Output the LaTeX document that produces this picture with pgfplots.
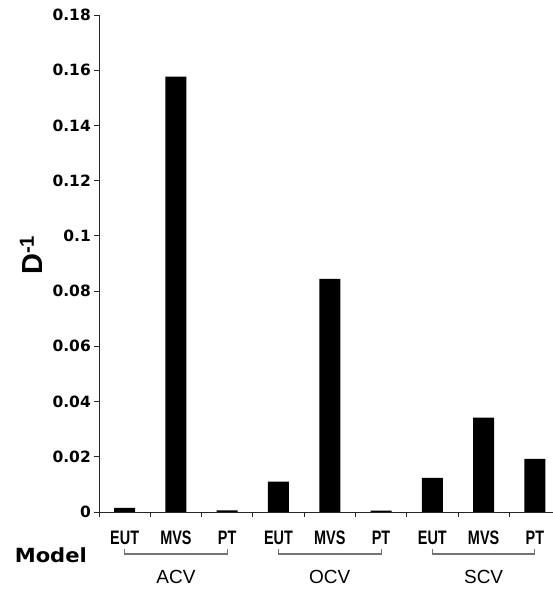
\documentclass[border=0pt]{standalone}
\usepackage{fontspec}
\setmainfont{Liberation Sans}
\newfontfamily\tickfont{DejaVu Sans}
\newfontfamily\widefont[FakeStretch=1.08]{DejaVu Sans}
\newfontfamily\narrowfont[FakeStretch=0.74]{Liberation Sans}
\usepackage{pgfplots}
\pgfplotsset{compat=1.18}
\begin{document}
\begin{tikzpicture}
\useasboundingbox (0,0) rectangle (553pt,589pt);
\begin{axis}[
  at={(99pt,77pt)}, anchor=south west,
  scale only axis, width=454pt, height=497pt,
  xmin=-0.5, xmax=8.353, ymin=0, ymax=0.18,
  axis x line*=bottom, axis y line*=left,
  axis line style={line width=0.9pt, color=black!85},
  ybar, bar width=21pt,
  xtick={0,...,8},
  xticklabels={EUT,MVS,PT,EUT,MVS,PT,EUT,MVS,PT},
  minor xtick={-0.5,0.5,...,7.5},
  major x tick style={draw=none},
  minor x tick style={line width=0.9pt, color=black!85},
  minor tick length=5pt,
  major tick length=5pt,
  tick align=outside,
  ytick={0,0.02,...,0.18},
  yticklabels={0,0.02,0.04,0.06,0.08,0.1,0.12,0.14,0.16,0.18},
  y tick style={line width=0.9pt, color=black!85},
  yticklabel style={font=\tickfont\bfseries\fontsize{15.5}{16}\selectfont, anchor=east, inner sep=0pt, xshift=-3pt},
  xticklabel style={font=\narrowfont\bfseries\fontsize{19.5}{20}\selectfont, anchor=base, inner sep=0pt, yshift=-28pt},
  clip=false,
]
\addplot[fill=black, draw=none] coordinates {
  (0,0.0015) (1,0.1577) (2,0.0006)
  (3,0.0110) (4,0.0844) (5,0.0005)
  (6,0.0124) (7,0.0342) (8,0.0192)
};
\foreach \a/\b/\c/\n in {0/2/1/ACV,3/5/4/OCV,6/8/7/SCV}{
  \edef\tmp{\noexpand\draw[color=black!55, line width=1.1pt] ([yshift=-37pt]axis cs:\a,0) -- ([yshift=-42pt]axis cs:\a,0) -- ([yshift=-42pt]axis cs:\b,0) -- ([yshift=-37pt]axis cs:\b,0);
  \noexpand\node[anchor=base, inner sep=0pt, font=\noexpand\fontsize{19}{20}\noexpand\selectfont] at ([yshift=-71pt]axis cs:\c,0) {\n};}
  \tmp
}
\end{axis}
\node[anchor=base east, inner sep=0pt, font=\widefont\bfseries\fontsize{19.5}{20}\selectfont] at (87pt,26pt) {Model};
\node[rotate=90, anchor=base, inner sep=0pt, font=\bfseries\fontsize{29}{30}\selectfont] at (43pt,334pt) {D\textsuperscript{-1}};
\end{tikzpicture}
\end{document}
